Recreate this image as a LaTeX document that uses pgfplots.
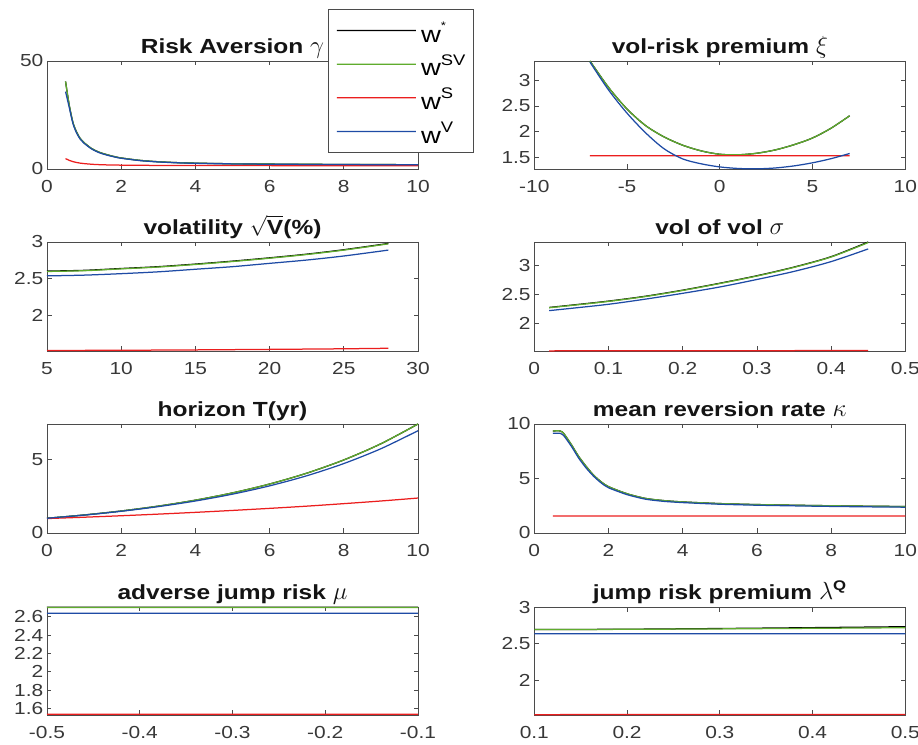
\documentclass[border=0pt]{standalone}
\usepackage{pgfplots}
\pgfplotsset{compat=1.18}
\usepackage{fontspec}
\setmainfont[FakeStretch=1.2]{Liberation Sans}
\definecolor{cg}{RGB}{95,172,45}
\definecolor{cr}{RGB}{235,30,30}
\definecolor{cb}{RGB}{30,75,165}
\definecolor{ax}{RGB}{75,75,75}
\newcommand\sups[1]{\raisebox{10.7bp}{\fontsize{15.4}{15.4}\selectfont #1}}
\newcommand\gk[1]{{\fontsize{24}{24}\selectfont$#1$}}
\pgfplotsset{
 panel/.style={scale only axis, width=371bp, height=108bp, anchor=south west,
  axis line style={ax, line width=0.8bp},
  tick align=inside, major tick length=4.5bp,
  every tick/.style={ax, line width=0.8bp},
  tick label style={font=\fontsize{17.5}{17.5}\selectfont, text=black!78},
  yticklabel style={inner sep=2bp, xshift=-1.5bp},
  xticklabel style={yshift=-8bp},
  title style={font=\bfseries\fontsize{20.5}{20.5}\selectfont, anchor=base, yshift=2bp, text=black!92},
  clip=false,
  every axis plot/.append style={line width=1.25bp, line join=round},
 },
}
\begin{document}
\begin{tikzpicture}
\path[use as bounding box] (0,0) rectangle (918bp,745bp);
% ---------- Panel 1
\begin{axis}[panel, at={(47bp,576bp)},
 xmin=0, xmax=10, ymin=0, ymax=50,
 xtick={0,2,4,6,8,10}, xticklabels={0,2,4,6,8,10},
 ytick={0,50}, yticklabels={0,50},
 title={Risk Aversion \gk{\gamma}},
 legend style={at={(0.758,1.481)}, anchor=north west, draw=ax, line width=0.8bp,
   font=\fontsize{23}{23}\selectfont, inner xsep=7.7bp, inner ysep=4.3bp,
   nodes={inner sep=0pt, text height=28.4bp, text depth=5bp},
   row sep=0.3bp, column sep=4.5bp, cells={anchor=west}},
 legend image code/.code={\draw[#1, line width=1.25bp] (0bp,0bp) -- (39.5bp,0.01bp) -- (79bp,0bp);},
]
\addplot[black, smooth] coordinates {(0.5,40.5)(0.6,29.5)(0.7,21.5)(0.8,17)(0.9,14)(1.0,12.2)(1.2,9.5)(1.4,7.8)(1.6,6.7)(1.8,5.8)(2.0,5.1)(2.5,4.0)(3,3.35)(3.5,2.95)(4,2.7)(5,2.42)(6,2.27)(7,2.17)(8,2.1)(9,2.04)(10,2.0)};
\addlegendentry{w\sups{\fontsize{11}{11}\selectfont\raisebox{2bp}{*}}}
\addplot[cg, smooth] coordinates {(0.5,40.5)(0.6,29.5)(0.7,21.5)(0.8,17)(0.9,14)(1.0,12.2)(1.2,9.5)(1.4,7.8)(1.6,6.7)(1.8,5.8)(2.0,5.1)(2.5,4.0)(3,3.35)(3.5,2.95)(4,2.7)(5,2.42)(6,2.27)(7,2.17)(8,2.1)(9,2.04)(10,2.0)};
\addlegendentry{w\sups{SV}}
\addplot[cr, smooth] coordinates {(0.5,4.8)(0.6,4.0)(0.7,3.4)(0.8,3.0)(0.9,2.7)(1.0,2.5)(1.2,2.2)(1.5,1.95)(2,1.78)(3,1.65)(4,1.6)(6,1.56)(8,1.545)(10,1.54)};
\addlegendentry{w\sups{S}}
\addplot[cb, smooth] coordinates {(0.5,35.8)(0.6,28.5)(0.7,21)(0.8,16.6)(0.9,13.7)(1.0,11.9)(1.2,9.3)(1.4,7.6)(1.6,6.5)(1.8,5.65)(2,4.97)(2.5,3.9)(3,3.27)(3.5,2.88)(4,2.63)(5,2.36)(6,2.21)(7,2.12)(8,2.05)(9,1.99)(10,1.95)};
\addlegendentry{w\sups{V}}
\end{axis}
% ---------- Panel 2
\begin{axis}[panel, at={(534.3bp,576bp)},
 xmin=-10, xmax=10, ymin=1.28, ymax=3.37,
 xtick={-10,-5,0,5,10}, xticklabels={-10,-5,0,5,10},
 ytick={1.5,2,2.5,3}, yticklabels={1.5,2,2.5,3},
 title={vol-risk premium \gk{\xi}}]
\addplot[black, smooth] coordinates {(-7,3.37)(-6,2.86)(-5,2.44)(-4,2.12)(-3,1.90)(-2,1.74)(-1,1.63)(0,1.565)(1,1.555)(2,1.585)(3,1.65)(4,1.75)(5,1.88)(6,2.07)(7,2.31)};
\addplot[cg, smooth] coordinates {(-7,3.37)(-6,2.86)(-5,2.44)(-4,2.12)(-3,1.90)(-2,1.74)(-1,1.63)(0,1.565)(1,1.555)(2,1.585)(3,1.65)(4,1.75)(5,1.88)(6,2.07)(7,2.31)};
\addplot[cr] coordinates {(-7,1.535)(0,1.5351)(7,1.535)};
\addplot[cb, smooth] coordinates {(-7,3.35)(-6,2.81)(-5,2.36)(-4,1.98)(-3,1.67)(-2,1.475)(-1,1.38)(0,1.32)(1,1.29)(2,1.283)(3,1.30)(4,1.34)(5,1.40)(6,1.48)(7,1.58)};
\end{axis}
% ---------- Panel 3
\begin{axis}[panel, at={(47bp,394bp)}, height=109bp,
 xmin=5, xmax=30, ymin=1.52, ymax=3,
 xtick={5,10,15,20,25,30}, xticklabels={5,10,15,20,25,30},
 ytick={2,2.5,3}, yticklabels={2,2.5,3},
 title={volatility $\sqrt{\mbox{\bfseries V}}$(\%)}]
\addplot[black, smooth] coordinates {(5,2.605)(7.5,2.615)(10,2.64)(12.5,2.665)(15,2.70)(17.5,2.74)(20,2.785)(22.5,2.835)(25,2.895)(28,2.98)};
\addplot[cg, smooth] coordinates {(5,2.60)(7.5,2.61)(10,2.635)(12.5,2.66)(15,2.695)(17.5,2.735)(20,2.78)(22.5,2.83)(25,2.89)(28,2.975)};
\addplot[cr, smooth] coordinates {(5,1.527)(10,1.53)(15,1.535)(20,1.542)(25,1.55)(28,1.557)};
\addplot[cb, smooth] coordinates {(5,2.54)(7.5,2.55)(10,2.57)(12.5,2.595)(15,2.63)(17.5,2.665)(20,2.71)(22.5,2.755)(25,2.81)(28,2.89)};
\end{axis}
% ---------- Panel 4
\begin{axis}[panel, at={(534.3bp,394bp)}, height=109bp,
 xmin=0, xmax=0.5, ymin=1.52, ymax=3.41,
 xtick={0,0.1,0.2,0.3,0.4,0.5}, xticklabels={0,0.1,0.2,0.3,0.4,0.5},
 ytick={2,2.5,3}, yticklabels={2,2.5,3},
 title={vol of vol \gk{\sigma}}]
\addplot[black, smooth] coordinates {(0.02,2.275)(0.05,2.315)(0.1,2.385)(0.15,2.47)(0.2,2.575)(0.25,2.695)(0.3,2.825)(0.35,2.975)(0.4,3.155)(0.45,3.41)};
\addplot[cg, smooth] coordinates {(0.02,2.27)(0.05,2.31)(0.1,2.38)(0.15,2.465)(0.2,2.57)(0.25,2.69)(0.3,2.82)(0.35,2.97)(0.4,3.15)(0.45,3.40)};
\addplot[cr] coordinates {(0.02,1.522)(0.2,1.524)(0.45,1.528)};
\addplot[cb, smooth] coordinates {(0.02,2.22)(0.05,2.26)(0.1,2.33)(0.15,2.42)(0.2,2.52)(0.25,2.63)(0.3,2.76)(0.35,2.90)(0.4,3.07)(0.45,3.29)};
\end{axis}
% ---------- Panel 5
\begin{axis}[panel, at={(47bp,212bp)}, height=109bp,
 xmin=0, xmax=10, ymin=0, ymax=7.39,
 xtick={0,2,4,6,8,10}, xticklabels={0,2,4,6,8,10},
 ytick={0,5}, yticklabels={0,5},
 title={horizon T(yr)}]
\addplot[black, smooth] coordinates {(0,1)(1,1.221)(2,1.492)(3,1.822)(4,2.226)(5,2.718)(6,3.320)(7,4.055)(8,4.953)(9,6.050)(10,7.389)};
\addplot[cg, smooth] coordinates {(0,1)(1,1.221)(2,1.492)(3,1.822)(4,2.226)(5,2.718)(6,3.320)(7,4.055)(8,4.953)(9,6.050)(10,7.389)};
\addplot[cr, smooth] coordinates {(0,0.98)(1,1.07)(2,1.17)(3,1.28)(4,1.40)(5,1.53)(6,1.67)(7,1.82)(8,1.99)(9,2.17)(10,2.37)};
\addplot[cb, smooth] coordinates {(0,1)(1,1.214)(2,1.473)(3,1.788)(4,2.170)(5,2.633)(6,3.196)(7,3.879)(8,4.708)(9,5.714)(10,6.935)};
\end{axis}
% ---------- Panel 6
\begin{axis}[panel, at={(534.3bp,212bp)}, height=109bp,
 xmin=0, xmax=10, ymin=0, ymax=10,
 xtick={0,2,4,6,8,10}, xticklabels={0,2,4,6,8,10},
 ytick={0,5,10}, yticklabels={0,5,10},
 title={mean reversion rate \gk{\kappa}}]
\addplot[black, smooth, tension=0.4] coordinates {(0.5,9.36)(0.7,9.36)(0.8,9.1)(1.0,8.1)(1.2,7.0)(1.4,6.1)(1.6,5.3)(1.8,4.7)(2.0,4.25)(2.5,3.6)(3,3.17)(3.5,2.97)(4,2.85)(5,2.7)(6,2.61)(7,2.55)(8,2.5)(9,2.46)(10,2.43)};
\addplot[cg, smooth, tension=0.4] coordinates {(0.5,9.36)(0.7,9.36)(0.8,9.1)(1.0,8.1)(1.2,7.0)(1.4,6.1)(1.6,5.3)(1.8,4.7)(2.0,4.25)(2.5,3.6)(3,3.17)(3.5,2.97)(4,2.85)(5,2.7)(6,2.61)(7,2.55)(8,2.5)(9,2.46)(10,2.43)};
\addplot[cr] coordinates {(0.5,1.56)(5,1.5601)(10,1.56)};
\addplot[cb, smooth, tension=0.4] coordinates {(0.5,9.14)(0.7,9.14)(0.8,8.9)(1.0,7.95)(1.2,6.85)(1.4,5.95)(1.6,5.2)(1.8,4.6)(2.0,4.15)(2.5,3.52)(3,3.1)(3.5,2.9)(4,2.79)(5,2.64)(6,2.55)(7,2.49)(8,2.44)(9,2.40)(10,2.37)};
\end{axis}
% ---------- Panel 7
\begin{axis}[panel, at={(47bp,30bp)},
 xmin=-0.5, xmax=-0.1, ymin=1.53, ymax=2.705,
 xtick={-0.5,-0.4,-0.3,-0.2,-0.1}, xticklabels={-0.5,-0.4,-0.3,-0.2,-0.1},
 ytick={1.6,1.8,2,2.2,2.4,2.6}, yticklabels={1.6,1.8,2,2.2,2.4,2.6},
 title={adverse jump risk \gk{\mu}}]
\addplot[black] coordinates {(-0.5,2.702)(-0.3,2.7021)(-0.1,2.702)};
\addplot[cg] coordinates {(-0.5,2.70)(-0.3,2.7001)(-0.1,2.70)};
\addplot[cr] coordinates {(-0.5,1.537)(-0.3,1.5371)(-0.1,1.537)};
\addplot[cb] coordinates {(-0.5,2.636)(-0.3,2.6361)(-0.1,2.636)};
\end{axis}
% ---------- Panel 8
\begin{axis}[panel, at={(534.3bp,30bp)},
 xmin=0.1, xmax=0.5, ymin=1.52, ymax=3,
 xtick={0.1,0.2,0.3,0.4,0.5}, xticklabels={0.1,0.2,0.3,0.4,0.5},
 ytick={2,2.5,3}, yticklabels={2,2.5,3},
 title={jump risk premium \gk{\lambda^{\mbox{\bfseries\fontsize{14}{14}\selectfont Q}}}}]
\addplot[black] coordinates {(0.1,2.69)(0.2,2.695)(0.3,2.705)(0.4,2.717)(0.5,2.73)};
\addplot[cg] coordinates {(0.1,2.69)(0.2,2.694)(0.3,2.70)(0.4,2.708)(0.5,2.716)};
\addplot[cr] coordinates {(0.1,1.525)(0.5,1.527)};
\addplot[cb] coordinates {(0.1,2.632)(0.3,2.6321)(0.5,2.632)};
\end{axis}
\end{tikzpicture}
\end{document}
